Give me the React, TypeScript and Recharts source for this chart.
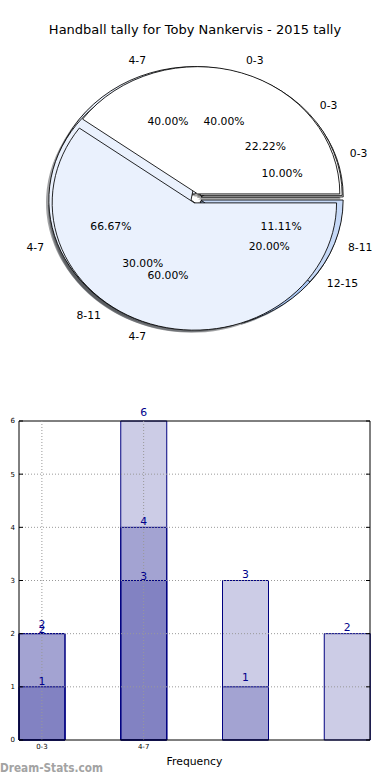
import React from 'react';
import { PieChart, Pie, Cell, BarChart, Bar, XAxis, YAxis, LabelList, ReferenceLine } from 'recharts';

const title = 'Handball tally for Toby Nankervis - 2015 tally';
const categories = ['0-3', '4-7', '8-11', '12-15'];
const seriesA: (number | null)[] = [2, 3, null, null];
const seriesB: (number | null)[] = [1, 4, 3, 2];
const seriesC: (number | null)[] = [2, 6, 1, null];
const xTickLabels = ['0-3', '4-7'];
const yTicks = [0, 1, 2, 3, 4, 5, 6];
const pieColors = ['#ffffff', '#eaf1fd', '#c6d9f7', '#a8c4f0'];
const shadowColors = ['#4d4d4d', '#46484c', '#3b414a', '#323b48'];
const watermark = 'Dream-Stats.com';
const xAxisTitle = 'Frequency';

const FONT = '"DejaVu Sans", sans-serif';
const NAVY = '#000080';

type Slice = { name: string; value: number; idx: number };
const toPie = (vals: (number | null)[]): Slice[] =>
  categories
    .map((name, i) => ({ name, value: vals[i] as number, idx: i }))
    .filter((d) => d.value != null);

// bottom to top drawing order
const pies: Slice[][] = [toPie(seriesB), toPie(seriesC), toPie(seriesA)];

const barData = categories.map((cat, i) => ({ cat, a: seriesA[i], b: seriesB[i], c: seriesC[i] }));

const K = 0.895; // vertical squash of the (elliptical) pie
const R = 142.2;
const CX = 196;
const CY = 198.4 / K;
const EXPLODE = 0.037;
const SHADOW = 0.02;

function midAngles(data: Slice[]) {
  const total = data.reduce((s, d) => s + d.value, 0);
  let acc = 0;
  return data.map((d) => {
    const a = ((acc + d.value / 2) / total) * 360;
    acc += d.value;
    return a;
  });
}

const makeLabel = (data: Slice[]) => (props: any) => {
  const { cx, cy, midAngle, index } = props;
  const total = data.reduce((s, d) => s + d.value, 0);
  const d = data[index];
  if (!d) return null;
  const rad = (midAngle * Math.PI) / 180;
  const cos = Math.cos(rad);
  const sin = Math.sin(rad);
  const r1 = (1.1 + EXPLODE) * R;
  const r2 = (0.6 + EXPLODE) * R;
  const pct = ((d.value / total) * 100).toFixed(2) + '%';
  return (
    <g>
      <text
        transform={`translate(${cx + r1 * cos},${cy - r1 * sin}) scale(1,${1 / K})`}
        textAnchor={cos > 0.0001 ? 'start' : cos < -0.0001 ? 'end' : 'middle'}
        dominantBaseline="central"
        fontSize={10.8}
        fontFamily={FONT}
        fill="#000"
      >
        {d.name}
      </text>
      <text
        transform={`translate(${cx + r2 * cos},${cy - r2 * sin}) scale(1,${1 / K})`}
        textAnchor="middle"
        dominantBaseline="central"
        fontSize={10.8}
        fontFamily={FONT}
        fill="#000"
      >
        {pct}
      </text>
    </g>
  );
};

function buildPieLayers() {
  const shadows: React.ReactNode[] = [];
  const wedges: React.ReactNode[] = [];
  const labels: React.ReactNode[] = [];
  pies.forEach((data, p) => {
    const mids = midAngles(data);
    data.forEach((_, i) => {
      const rad = (mids[i] * Math.PI) / 180;
      const ex = EXPLODE * R * Math.cos(rad);
      const ey = -EXPLODE * R * Math.sin(rad);
      shadows.push(
        <Pie
          key={`s${p}-${i}`}
          data={data}
          dataKey="value"
          nameKey="name"
          cx={CX + ex - SHADOW * R}
          cy={CY + ey + SHADOW * R}
          outerRadius={R}
          isAnimationActive={false}
          labelLine={false}
        >
          {data.map((d, j) => (
            <Cell key={j} fill={j === i ? shadowColors[d.idx] : 'none'} fillOpacity={0.5} stroke="none" />
          ))}
        </Pie>
      );
      wedges.push(
        <Pie
          key={`w${p}-${i}`}
          data={data}
          dataKey="value"
          nameKey="name"
          cx={CX + ex}
          cy={CY + ey}
          outerRadius={R}
          isAnimationActive={false}
          labelLine={false}
        >
          {data.map((d, j) => (
            <Cell
              key={j}
              fill={j === i ? pieColors[d.idx] : 'none'}
              stroke={j === i ? '#000' : 'none'}
              strokeWidth={0.9}
            />
          ))}
        </Pie>
      );
    });
    labels.push(
      <Pie
        key={`l${p}`}
        data={data}
        dataKey="value"
        nameKey="name"
        cx={CX}
        cy={CY}
        outerRadius={R}
        isAnimationActive={false}
        labelLine={false}
        label={makeLabel(data)}
      >
        {data.map((_, j) => (
          <Cell key={j} fill="none" stroke="none" />
        ))}
      </Pie>
    );
  });
  return [...shadows, ...wedges, ...labels];
}

export default function App() {
  return (
    <div
      style={{
        position: 'absolute',
        left: 0,
        top: 0,
        width: 390,
        height: 780,
        overflow: 'hidden',
        background: '#fff',
        fontFamily: FONT,
      }}
    >
      <div
        style={{
          position: 'absolute',
          top: 22,
          left: 0,
          width: 390,
          textAlign: 'center',
          fontSize: 13,
          lineHeight: '16px',
          color: '#000',
        }}
      >
        {title}
      </div>

      <div
        style={{
          position: 'absolute',
          top: 0,
          left: 0,
          width: 390,
          height: 400,
          transform: `scaleY(${K})`,
          transformOrigin: '0 0',
        }}
      >
        <PieChart width={390} height={400} margin={{ top: 0, right: 0, bottom: 0, left: 0 }}>
          {buildPieLayers()}
        </PieChart>
      </div>

      <div style={{ position: 'absolute', top: 400, left: 0, width: 390, height: 380 }}>
        <BarChart
          width={390}
          height={380}
          data={barData}
          margin={{ top: 21, right: 19, bottom: 10, left: 0 }}
          barGap={-46}
        >
          <XAxis
            dataKey="cat"
            padding={{ left: -28, right: -28 }}
            tickFormatter={(_v: any, i: number) => xTickLabels[i] ?? ''}
            tickLine={false}
            tickSize={0}
            tickMargin={4}
            axisLine={{ stroke: '#000', strokeWidth: 1 }}
            tick={{ fontSize: 7, fill: '#000', fontFamily: FONT }}
            height={30}
            interval={0}
            label={{ value: xAxisTitle, position: 'insideBottom', offset: 5, fontSize: 10.8, fill: '#000', fontFamily: FONT }}
          />
          <YAxis
            domain={[0, 6]}
            ticks={yTicks}
            width={19}
            tickSize={-4}
            tickMargin={8}
            tickLine={{ stroke: '#000' }}
            axisLine={{ stroke: '#000', strokeWidth: 1 }}
            tick={{ fontSize: 7, fill: '#000', fontFamily: FONT }}
            interval={0}
          />
          <YAxis
            yAxisId="r"
            orientation="right"
            domain={[0, 6]}
            ticks={yTicks}
            width={1}
            tickSize={-4}
            tickLine={{ stroke: '#000' }}
            tick={{ fontSize: 1, fill: 'none' }}
            axisLine={{ stroke: '#000', strokeWidth: 1 }}
            interval={0}
          />
          <Bar dataKey="a" barSize={46} fill={NAVY} fillOpacity={0.2} stroke={NAVY} strokeWidth={1} isAnimationActive={false}>
            <LabelList dataKey="a" position="top" offset={1} fill="#00008b" fontSize={10.8} fontFamily={FONT} />
          </Bar>
          <Bar dataKey="b" barSize={46} fill={NAVY} fillOpacity={0.2} stroke={NAVY} strokeWidth={1} isAnimationActive={false}>
            <LabelList dataKey="b" position="top" offset={2.2} fill="#00008b" fontSize={10.8} fontFamily={FONT} />
          </Bar>
          <Bar dataKey="c" yAxisId="r" barSize={46} fill={NAVY} fillOpacity={0.2} stroke={NAVY} strokeWidth={1} isAnimationActive={false}>
            <LabelList dataKey="c" position="top" offset={5.5} fill="#00008b" fontSize={10.8} fontFamily={FONT} />
          </Bar>
          {yTicks.slice(1, -1).map((t) => (
            <ReferenceLine key={`h${t}`} y={t} stroke="#999" strokeDasharray="1 2" strokeWidth={1} />
          ))}
          <ReferenceLine y={yTicks[yTicks.length - 1]} stroke="#000" strokeWidth={1} />
          {xTickLabels.map((c) => (
            <ReferenceLine key={`v${c}`} x={c} stroke="#999" strokeDasharray="1 2" strokeWidth={1} />
          ))}
        </BarChart>
      </div>

      <svg style={{ position: 'absolute', left: 0, top: 756 }} width={200} height={24}>
        <text x={0} y={16} fontSize={12.5} fontFamily={FONT} fontWeight="bold" fill="#a3a3a3" textLength={103} lengthAdjust="spacingAndGlyphs">
          {watermark}
        </text>
      </svg>
    </div>
  );
}
